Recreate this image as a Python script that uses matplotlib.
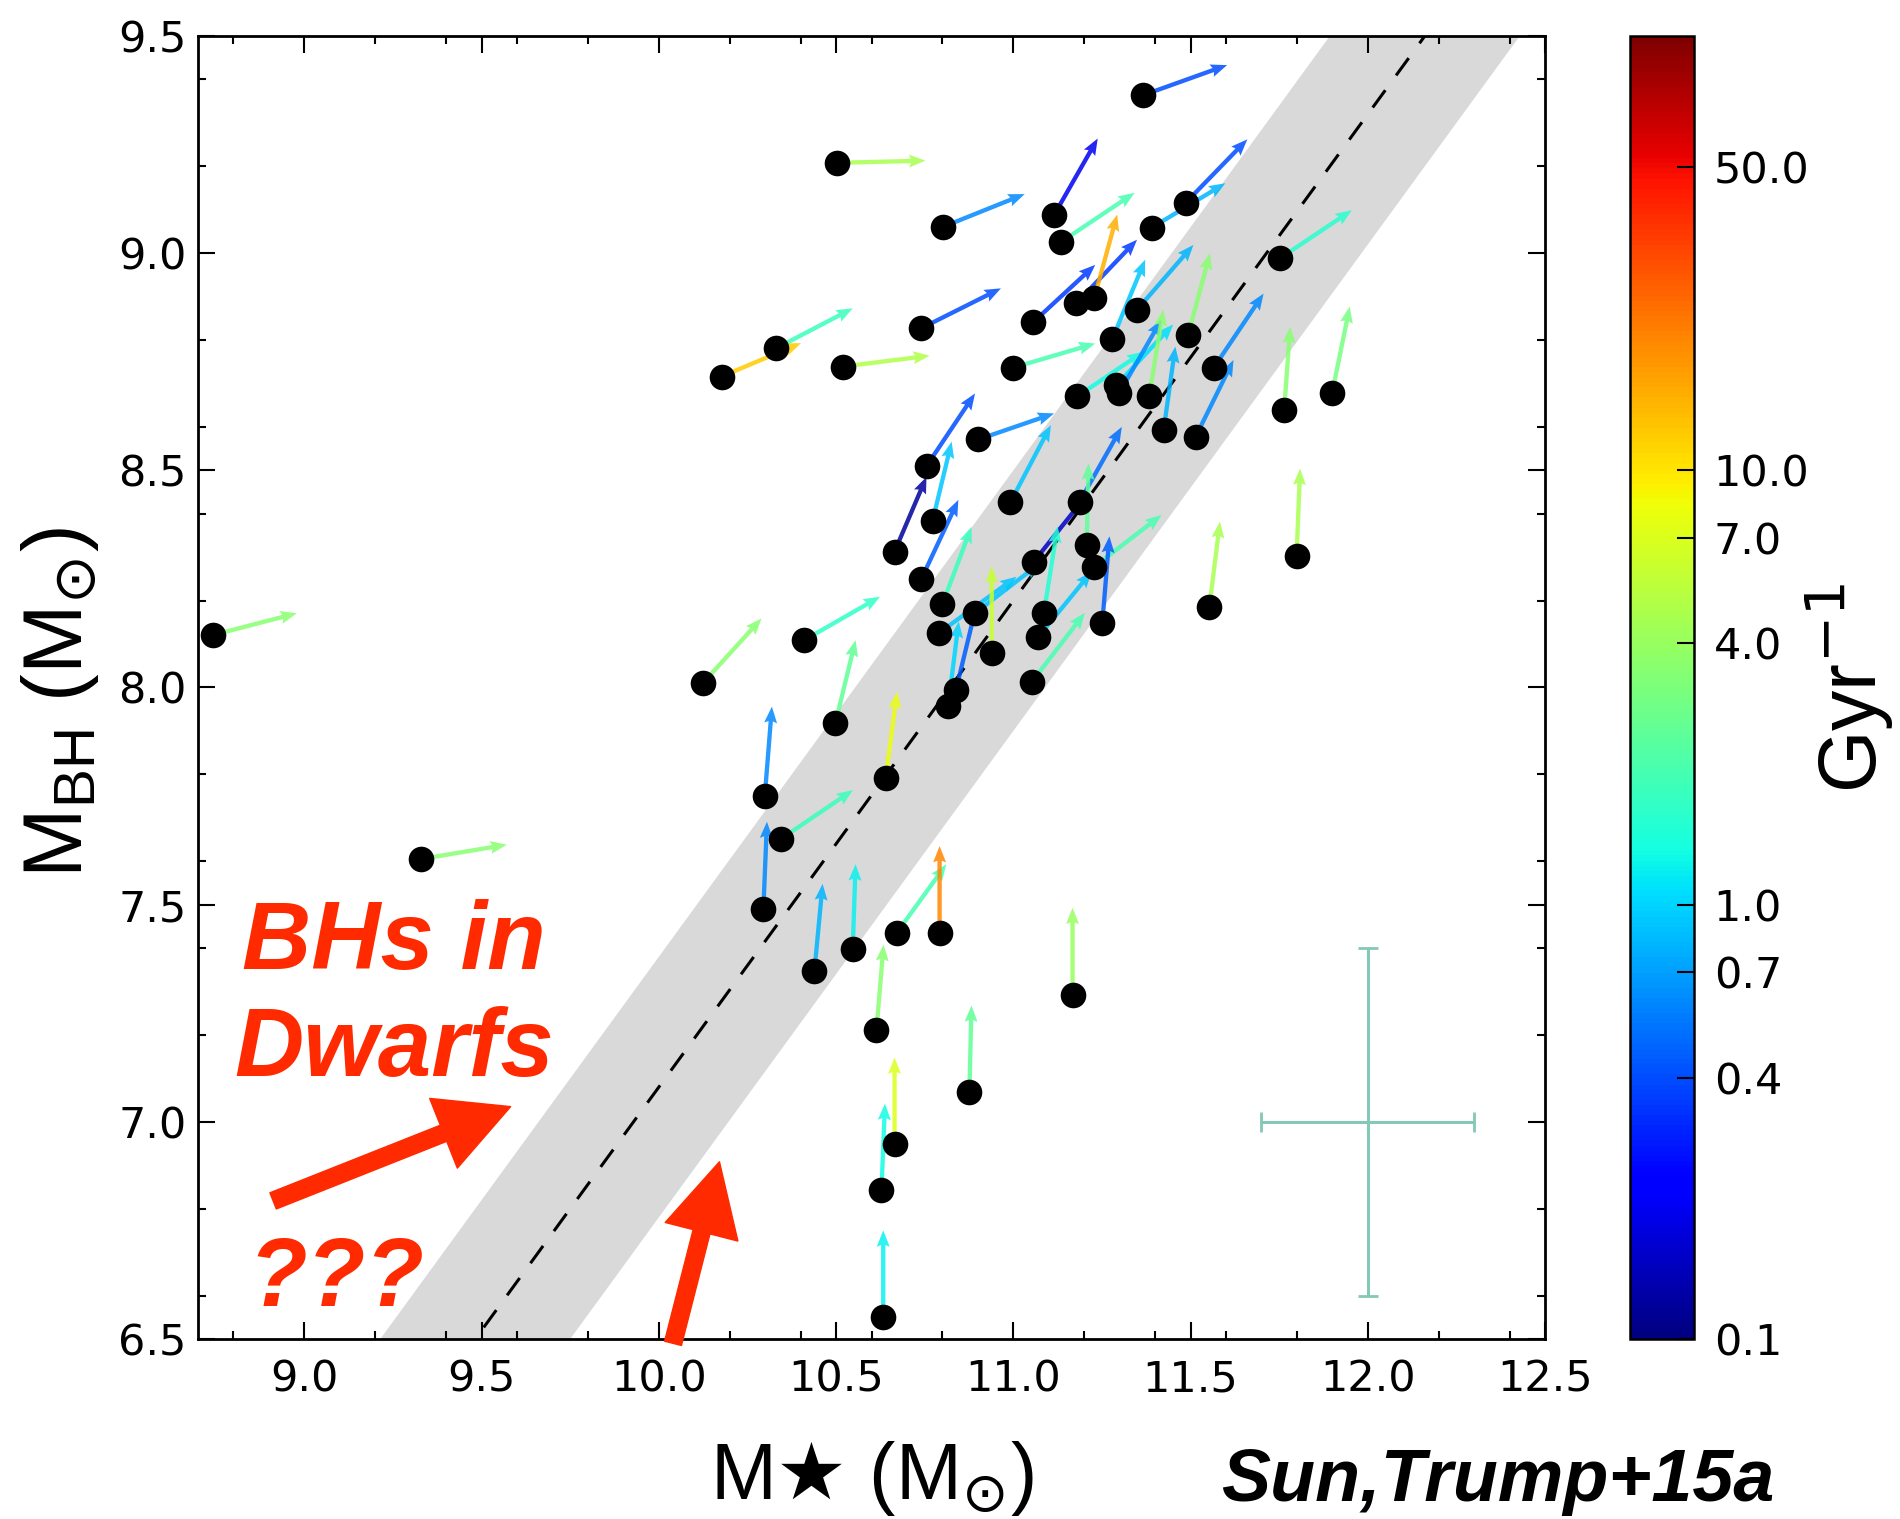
import numpy as np
import matplotlib
matplotlib.use("Agg")
import matplotlib.pyplot as plt
from matplotlib.colors import LogNorm
from matplotlib.cm import ScalarMappable
from matplotlib.ticker import MultipleLocator

# ---------------- data ----------------
# log stellar mass, log BH mass of each galaxy
log_mstar = [8.743, 9.328, 10.504, 11.367, 11.115, 11.135, 10.803, 11.391, 11.486, 11.752,
             10.331, 10.177, 10.520, 10.740, 11.056, 11.178, 11.228, 11.348, 11.279, 11.493,
             11.565, 10.998, 11.180, 11.291, 11.298, 11.383, 11.424, 11.514, 11.764, 11.899,
             10.901, 10.756, 10.992, 11.187, 10.772, 10.665, 11.207, 11.228, 11.058, 10.740,
             10.800, 10.892, 10.791, 11.086, 11.071, 11.251, 11.553, 11.799, 10.939, 10.410,
             10.124, 10.838, 10.816, 11.052, 10.498, 10.640, 10.299, 10.344, 10.295, 10.671,
             10.792, 10.547, 10.439, 10.614, 11.167, 10.876, 10.665, 10.628, 10.633]
log_mbh = [8.121, 7.605, 9.208, 9.364, 9.088, 9.026, 9.061, 9.059, 9.116, 8.988,
           8.781, 8.716, 8.739, 8.827, 8.841, 8.885, 8.896, 8.869, 8.802, 8.812,
           8.736, 8.736, 8.670, 8.696, 8.677, 8.670, 8.593, 8.577, 8.639, 8.677,
           8.571, 8.511, 8.427, 8.428, 8.383, 8.313, 8.328, 8.278, 8.290, 8.249,
           8.192, 8.171, 8.126, 8.171, 8.117, 8.148, 8.186, 8.303, 8.079, 8.109,
           8.010, 7.994, 7.957, 8.013, 7.918, 7.792, 7.751, 7.651, 7.491, 7.435,
           7.435, 7.399, 7.348, 7.212, 7.293, 7.068, 6.948, 6.842, 6.550]
# growth direction (arrow components, dex)
d_mstar = [0.236, 0.243, 0.248, 0.236, 0.123, 0.207, 0.229, 0.207, 0.174, 0.203,
           0.216, 0.224, 0.244, 0.225, 0.175, 0.171, 0.065, 0.160, 0.093, 0.062,
           0.141, 0.233, 0.187, 0.160, 0.120, 0.040, 0.033, 0.107, 0.017, 0.050,
           0.214, 0.136, 0.114, 0.119, 0.054, 0.090, 0.005, 0.190, 0.153, 0.105,
           0.082, 0.183, 0.218, 0.039, 0.150, 0.020, 0.030, 0.010, 0.000, 0.214,
           0.166, 0.058, 0.030, 0.150, 0.057, 0.032, 0.020, 0.204, 0.010, 0.140,
           0.000, 0.008, 0.023, 0.020, 0.000, 0.006, 0.000, 0.010, 0.000]
d_mbh = [0.050, 0.033, 0.005, 0.069, 0.176, 0.113, 0.075, 0.102, 0.146, 0.111,
         0.092, 0.077, 0.025, 0.092, 0.132, 0.146, 0.193, 0.150, 0.183, 0.188,
         0.171, 0.056, 0.103, 0.140, 0.170, 0.200, 0.192, 0.177, 0.192, 0.200,
         0.060, 0.166, 0.177, 0.172, 0.183, 0.172, 0.188, 0.119, 0.157, 0.183,
         0.178, 0.115, 0.129, 0.200, 0.150, 0.200, 0.196, 0.201, 0.200, 0.100,
         0.149, 0.195, 0.195, 0.159, 0.191, 0.198, 0.205, 0.113, 0.200, 0.158,
         0.200, 0.194, 0.200, 0.196, 0.200, 0.200, 0.200, 0.200, 0.200]
# specific growth rate (Gyr^-1)
rate = [3.5, 3.5, 4.5, 0.4, 0.2, 2.0, 0.6, 0.8, 0.4, 1.6,
        1.8, 12.0, 5.0, 0.4, 0.35, 0.35, 15.0, 0.8, 0.9, 3.5,
        0.6, 2.0, 1.3, 1.1, 0.6, 3.5, 0.8, 0.6, 3.5, 3.0,
        0.6, 0.4, 0.9, 0.5, 0.9, 0.12, 2.5, 2.0, 0.15, 0.45,
        1.8, 0.9, 0.9, 1.5, 0.9, 0.45, 4.5, 4.5, 6.0, 1.7,
        3.5, 0.45, 1.0, 2.0, 2.5, 8.0, 0.6, 1.8, 0.6, 2.0,
        20.0, 1.2, 0.8, 3.5, 4.0, 2.5, 7.0, 1.3, 1.2]

# local relation (Haring & Rix): log MBH = norm + slope*(log M* - 11), scatter
hr_norm, hr_slope, hr_scatter = 8.20, 1.12, 0.3
# typical uncertainty
err_x, err_y, err_dx, err_dy = 12.0, 7.0, 0.3, 0.4

cbar_ticks = [0.1, 0.4, 0.7, 1.0, 4.0, 7.0, 10.0, 50.0]
cbar_ticklabels = ["0.1", "0.4", "0.7", "1.0", "4.0", "7.0", "10.0", "50.0"]
xticks = [9.0, 9.5, 10.0, 10.5, 11.0, 11.5, 12.0, 12.5]
yticks = [6.5, 7.0, 7.5, 8.0, 8.5, 9.0, 9.5]

# ---------------- figure ----------------
RED = "#ff2a00"
fig = plt.figure(figsize=(19, 15.19), dpi=100)
ax = fig.add_axes([0.1042, 0.1185, 0.7090, 0.8578])

xb = np.array([8.7, 12.5])
yline = hr_norm + hr_slope * (xb - 11.0)
ax.fill_between(xb, yline - hr_scatter, yline + hr_scatter, color="#d9d9d9", lw=0, zorder=0)
ax.plot(xb, yline, color="k", lw=2.2, dashes=(7, 6), zorder=1)

norm = LogNorm(0.1, 100)
ax.quiver(log_mstar, log_mbh, d_mstar, d_mbh, rate, cmap="jet", norm=norm,
          angles="xy", scale_units="xy", scale=1, width=0.0032,
          headwidth=3.0, headlength=3.8, headaxislength=3.4, alpha=0.85, zorder=2)
ax.scatter(log_mstar, log_mbh, s=340, c="k", lw=0, zorder=3)

ax.errorbar([err_x], [err_y], xerr=err_dx, yerr=err_dy, color="#84c8b6", lw=2.2,
            capsize=7, capthick=2, zorder=2)

ax.set_xlim(8.7, 12.5)
ax.set_ylim(6.5, 9.5)
ax.set_xticks(xticks)
ax.set_yticks(yticks)
ax.set_xticklabels([f"{v:.1f}" for v in xticks])
ax.set_yticklabels([f"{v:.1f}" for v in yticks])
ax.xaxis.set_minor_locator(MultipleLocator(0.2))
ax.yaxis.set_minor_locator(MultipleLocator(0.2))
ax.tick_params(which="both", direction="in", top=True, right=True, width=1.5)
ax.tick_params(which="major", length=12, labelsize=31)
ax.tick_params(which="minor", length=6)
ax.tick_params(axis="x", which="major", pad=14)
ax.tick_params(axis="y", which="major", pad=8)
for s in ax.spines.values():
    s.set_linewidth(2)

ax.set_xlabel("M$\\bigstar$ (M$_{\\odot}$)", fontsize=57,
              family=["Liberation Sans Narrow", "Liberation Sans", "DejaVu Sans"])
ax.xaxis.set_label_coords(0.5, -0.077)
ax.set_ylabel("M$_{\\mathregular{BH}}$ (M$_{\\odot}$)", fontsize=60,
              family=["Liberation Sans", "DejaVu Sans"])
ax.yaxis.set_label_coords(-0.072, 0.488)

# red annotations
tfont = dict(color=RED, fontsize=69, fontweight="bold", style="italic",
             family=["Liberation Sans", "DejaVu Sans"])
ax.text(8.824, 7.352, "BHs in", ha="left", va="baseline", **tfont)
ax.text(8.802, 7.105, "Dwarfs", ha="left", va="baseline", **tfont)
ax.text(8.841, 6.576, "???", ha="left", va="baseline", **tfont)
astyle = "simple,head_length=52,head_width=54,tail_width=12.5"
ax.annotate("", xy=(9.582, 7.035), xytext=(8.912, 6.818),
            arrowprops=dict(arrowstyle=astyle, mutation_scale=1, color=RED, shrinkA=0, shrinkB=0),
            annotation_clip=False, zorder=5)
ax.annotate("", xy=(10.171, 6.908), xytext=(10.040, 6.49),
            arrowprops=dict(arrowstyle=astyle, mutation_scale=1, color=RED, shrinkA=0, shrinkB=0),
            annotation_clip=False, zorder=5)

# colorbar
cax = fig.add_axes([0.858, 0.1185, 0.0337, 0.8578])
sm = ScalarMappable(norm=norm, cmap="jet")
cb = fig.colorbar(sm, cax=cax, ticks=cbar_ticks)
cb.set_ticklabels(cbar_ticklabels)
cb.ax.minorticks_off()
cb.ax.tick_params(direction="in", length=12, width=1.5, labelsize=31, pad=14)
cb.outline.set_linewidth(1.8)
cb.set_label("Gyr$^{-1}$", fontsize=58, family=["Liberation Sans", "DejaVu Sans"])
cb.ax.yaxis.set_label_coords(2.7, 0.50)

fig.text(0.6426, 0.012, "Sun,Trump+15a", fontsize=53, fontweight="bold", style="italic",
         family=["Liberation Sans", "DejaVu Sans"], ha="left", va="baseline")

fig.savefig("out.png", dpi=100)
